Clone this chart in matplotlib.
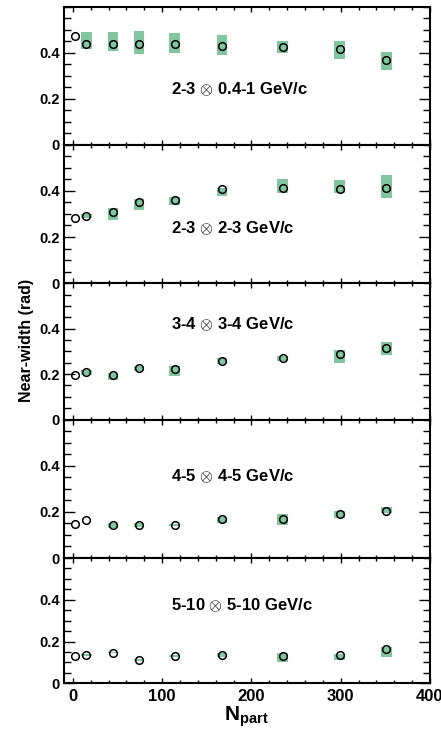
import numpy as np
import matplotlib.pyplot as plt
from matplotlib.ticker import MultipleLocator, FixedLocator, FuncFormatter

plt.rcParams['font.family'] = ['Liberation Sans', 'DejaVu Sans']
plt.rcParams['font.weight'] = 'bold'
plt.rcParams['mathtext.fontset'] = 'custom'
plt.rcParams['mathtext.bf'] = 'Liberation Sans:bold'
plt.rcParams['mathtext.rm'] = 'Liberation Sans:bold'
plt.rcParams['mathtext.fallback'] = 'cm'

# data
npart = [2, 15, 45, 74, 114, 167, 235, 299, 351]

panel_labels = [r'2-3 $\otimes$ 0.4-1 GeV/c', r'2-3 $\otimes$ 2-3 GeV/c',
                r'3-4 $\otimes$ 3-4 GeV/c', r'4-5 $\otimes$ 4-5 GeV/c',
                r'5-10 $\otimes$ 5-10 GeV/c']

width_1 = [0.473, 0.437, 0.438, 0.440, 0.440, 0.431, 0.425, 0.416, 0.368]
width_2 = [0.281, 0.291, 0.308, 0.351, 0.360, 0.406, 0.410, 0.409, 0.414]
width_3 = [0.196, 0.208, 0.198, 0.226, 0.223, 0.259, 0.270, 0.287, 0.316]
width_4 = [0.149, 0.163, 0.142, 0.143, 0.142, 0.168, 0.169, 0.191, 0.204]
width_5 = [0.130, 0.136, 0.146, 0.112, 0.130, 0.136, 0.133, 0.134, 0.162]

nan = np.nan
sys_lo_1 = [nan, 0.415, 0.407, 0.397, 0.399, 0.391, 0.399, 0.371, 0.326]
sys_hi_1 = [nan, 0.492, 0.492, 0.495, 0.488, 0.480, 0.450, 0.450, 0.402]
sys_lo_2 = [nan, 0.281, 0.272, 0.319, 0.339, 0.379, 0.391, 0.391, 0.368]
sys_hi_2 = [nan, 0.298, 0.324, 0.364, 0.374, 0.413, 0.450, 0.445, 0.468]
sys_lo_3 = [nan, 0.196, 0.174, 0.214, 0.192, 0.246, 0.256, 0.248, 0.284]
sys_hi_3 = [nan, 0.217, 0.207, 0.234, 0.236, 0.270, 0.281, 0.306, 0.340]
sys_lo_4 = [nan, nan, 0.130, 0.134, 0.139, 0.152, 0.142, 0.175, 0.195]
sys_hi_4 = [nan, nan, 0.150, 0.150, 0.146, 0.179, 0.189, 0.204, 0.219]
sys_lo_5 = [nan, 0.131, 0.144, 0.107, 0.126, 0.126, 0.104, 0.112, 0.126]
sys_hi_5 = [nan, 0.141, 0.148, 0.117, 0.134, 0.146, 0.143, 0.139, 0.173]

label_y = [0.24, 0.237, 0.42, 0.355, 0.376]

widths = [width_1, width_2, width_3, width_4, width_5]
sys_lo = [sys_lo_1, sys_lo_2, sys_lo_3, sys_lo_4, sys_lo_5]
sys_hi = [sys_hi_1, sys_hi_2, sys_hi_3, sys_hi_4, sys_hi_5]

W, H = 441, 737
fig = plt.figure(figsize=(W / 100, H / 100), dpi=100)

# panel edges in pixels from the top
edges = [7, 144.5, 283.3, 419.5, 558, 683.3]
left, right = 64, 430
green = '#82c6a0'

for i in range(5):
    top, bot = edges[i], edges[i + 1]
    ax = fig.add_axes([left / W, 1 - bot / H, (right - left) / W, (bot - top) / H])
    lo = np.array(sys_lo[i])
    hi = np.array(sys_hi[i])
    ax.bar(npart, hi - lo, bottom=lo, width=12, color=green, linewidth=0, zorder=1)
    ax.plot(npart, widths[i], 'o', ms=5.5, mfc='none', mec='black', mew=1.1, zorder=3)
    ax.text(110, label_y[i], panel_labels[i], fontsize=12, fontweight='bold',
            ha='left', va='center')

    ax.set_xlim(-10, 400)
    ax.set_ylim(0, 0.6)
    ax.yaxis.set_major_locator(FixedLocator([0, 0.2, 0.4]))
    ax.yaxis.set_minor_locator(MultipleLocator(0.05))
    ax.yaxis.set_major_formatter(FuncFormatter(lambda v, p: '0' if v == 0 else f'{v:.1f}'))
    ax.xaxis.set_major_locator(MultipleLocator(100))
    ax.xaxis.set_minor_locator(MultipleLocator(20))
    ax.tick_params(axis='y', which='major', direction='in', length=8, width=1.0,
                   left=True, right=True, labelsize=10.5, pad=3)
    ax.tick_params(axis='y', which='minor', direction='in', length=5, width=1.0,
                   left=True, right=True)
    ax.tick_params(axis='x', which='major', direction='in', length=3.5, width=1.0,
                   top=True, bottom=True, labelsize=12, pad=4)
    ax.tick_params(axis='x', which='minor', direction='in', length=2, width=1.0,
                   top=True, bottom=True)
    for lab in ax.get_xticklabels() + ax.get_yticklabels():
        lab.set_fontweight('bold')
    if i < 4:
        ax.tick_params(axis='x', labelbottom=False)
    for s in ax.spines.values():
        s.set_linewidth(1.5)

fig.text(26 / W, 1 - 340 / H, 'Near-width (rad)', rotation=90, fontsize=11.5,
         fontweight='bold', ha='center', va='center')
fig.text(246 / W, 1 - 717 / H, r'$\mathbf{N}_{\mathbf{part}}$', fontsize=15,
         ha='center', va='center')

fig.savefig('out.png', dpi=100)
